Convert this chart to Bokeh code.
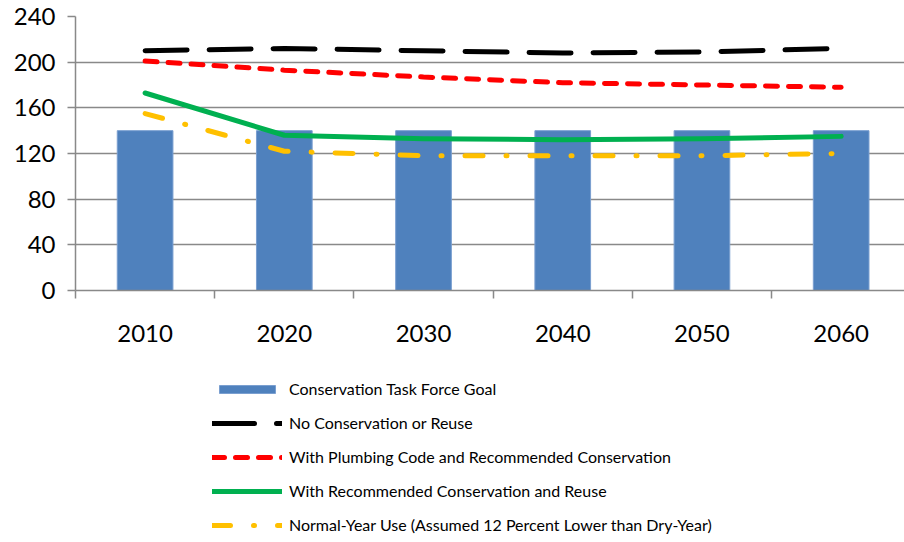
from bokeh.plotting import figure
from bokeh.models import Range1d, FixedTicker, Legend, LegendItem
from bokeh.layouts import column
from bokeh.embed import file_html
from bokeh.resources import INLINE

years = ["2010", "2020", "2030", "2040", "2050", "2060"]
task_force_goal = [140, 140, 140, 140, 140, 140]
no_conservation = [210, 212, 210, 208, 209, 212]
plumbing_code = [201, 193, 187, 182, 180, 178]
conservation_reuse = [173, 136, 133, 132, 133, 135]
normal_year = [155, 122, 118, 118, 118, 120]
y_ticks = [0, 40, 80, 120, 160, 200, 240]
labels = ["Conservation Task Force Goal",
          "No Conservation or Reuse",
          "With Plumbing Code and Recommended Conservation",
          "With Recommended Conservation and Reuse",
          "Normal-Year Use (Assumed 12 Percent Lower than Dry-Year)"]

x = list(range(len(years)))
FONT = "Lato"

STYLES = [
    dict(line_color="black", line_width=5, line_dash="42 22", line_cap="round"),
    dict(line_color="#FF0000", line_width=5, line_dash="12 11", line_cap="round"),
    dict(line_color="#00B050", line_width=5, line_cap="round", line_join="round"),
    dict(line_color="#FFC000", line_width=5, line_dash="18 23 1 23", line_cap="round"),
]
BAR_STYLE = dict(fill_color="#4F81BD", line_color="#7A9FD0", line_width=1)

p = figure(width=904, height=350, output_backend="svg", toolbar_location=None,
           x_range=Range1d(-0.5, 5.455), y_range=Range1d(0, 240),
           min_border_left=75, min_border_top=16, min_border_right=0,
           min_border_bottom=60)
p.outline_line_color = None
p.vbar(x=x, top=task_force_goal, width=0.4, **BAR_STYLE)
for series, st in zip([no_conservation, plumbing_code, conservation_reuse, normal_year], STYLES):
    p.line(x, series, **st)

p.xaxis.ticker = FixedTicker(ticks=x, minor_ticks=[i - 0.5 for i in range(len(years) + 1)])
p.xaxis.major_label_overrides = {i: years[i] for i in x}
p.xaxis.major_tick_out = 0
p.xaxis.major_tick_in = 0
p.xaxis.minor_tick_out = 8
p.xaxis.minor_tick_in = 0
p.xaxis.minor_tick_line_color = "#898989"
p.xaxis.minor_tick_line_width = 1.5
p.xaxis.axis_line_color = "#898989"
p.xaxis.axis_line_width = 1.5
p.xaxis.major_label_text_font = FONT
p.xaxis.major_label_text_font_size = "24px"
p.xaxis.major_label_text_color = "black"
p.xaxis.major_label_standoff = 26

p.yaxis.ticker = FixedTicker(ticks=y_ticks)
p.yaxis.minor_tick_line_color = None
p.yaxis.major_tick_out = 8
p.yaxis.major_tick_in = 0
p.yaxis.major_tick_line_color = "#898989"
p.yaxis.major_tick_line_width = 1.5
p.yaxis.axis_line_color = "#898989"
p.yaxis.axis_line_width = 1.5
p.yaxis.major_label_text_font = FONT
p.yaxis.major_label_text_font_size = "24px"
p.yaxis.major_label_text_color = "black"
p.yaxis.major_label_standoff = 12

p.xgrid.grid_line_color = None
p.ygrid.ticker = FixedTicker(ticks=y_ticks)
p.ygrid.grid_line_color = "#898989"
p.ygrid.grid_line_width = 1.5

# legend panel: legend swatches only (renderers holding a single NaN, nothing drawn)
nan = [float("nan")]
q = figure(width=904, height=192, output_backend="svg", toolbar_location=None,
           x_range=Range1d(0, 1), y_range=Range1d(0, 1),
           min_border=0, x_axis_location=None, y_axis_location=None)
q.outline_line_color = None
q.grid.grid_line_color = None
rends = [q.vbar(x=nan, top=nan, width=0.4, **BAR_STYLE)]
for st in STYLES:
    rends.append(q.line(nan, nan, **st))

legend = Legend(items=[LegendItem(label=lab, renderers=[r]) for lab, r in zip(labels, rends)],
                location=(137, 8))
legend.border_line_color = None
legend.background_fill_alpha = 0
legend.padding = 0
legend.margin = 0
legend.glyph_width = 70
legend.glyph_height = 10
legend.label_height = 17
legend.spacing = 15
legend.label_standoff = 7
legend.label_text_font = FONT
legend.label_text_font_size = "16px"
legend.label_text_color = "black"
legend.label_text_baseline = "middle"
q.add_layout(legend, "center")

open("out.html", "w").write(file_html(column(p, q, spacing=0), INLINE))
